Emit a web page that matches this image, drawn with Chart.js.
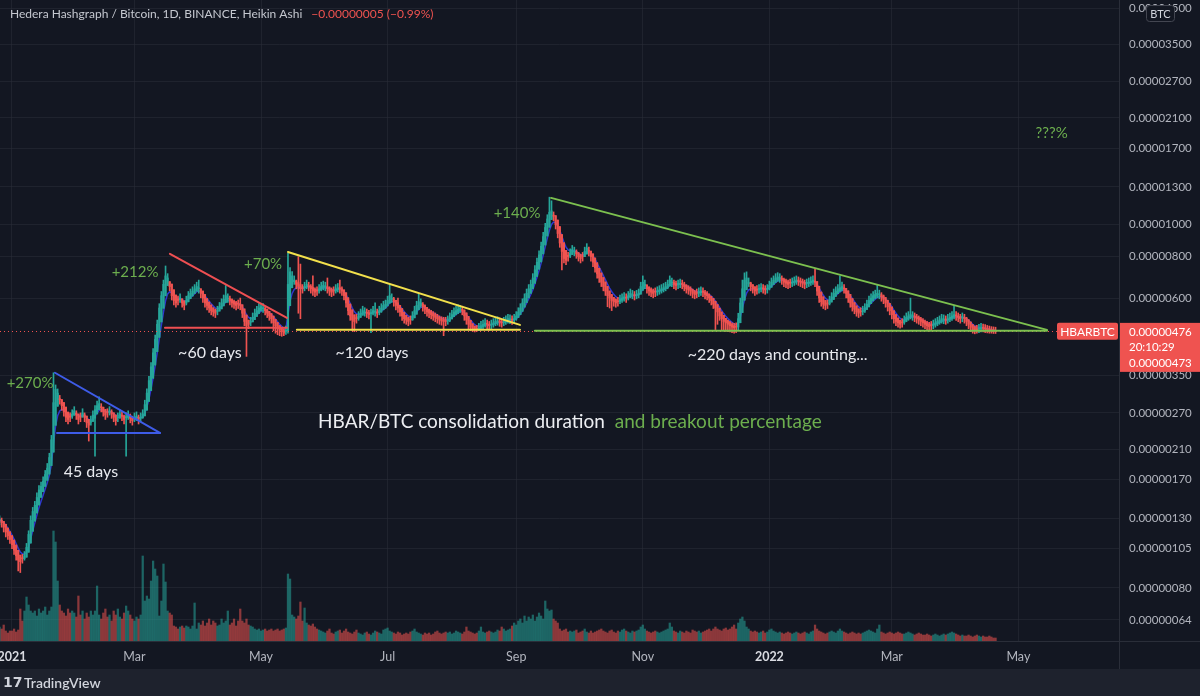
<!DOCTYPE html>
<html>
<head>
<meta charset="utf-8">
<script src="https://cdn.jsdelivr.net/npm/chart.js@4.4.1/dist/chart.umd.min.js"></script>
<style>
  html, body { margin: 0; padding: 0; background: #131722; }
  canvas { display: block; }
</style>
</head>
<body>
<canvas id="chart" width="1200" height="696"></canvas>
<script>
// HBAR/BTC daily Heikin Ashi, prices in satoshi (1e-8 BTC), day 0 = 1 Jan 2021
const firstDay = -6;

const closes = [
  128,126,122,118,115,112,
  108,104,100,97,96,98,100,106,116,128,
  136,142,150,158,162,168,176,184,198,224,
  290,318,310,296,284,272,262,258,262,268,
  274,266,258,262,270,262,252,248,256,266,
  276,284,288,280,272,266,270,274,268,262,
  256,262,268,264,258,262,266,260,256,262,
  264,258,262,268,286,310,338,372,410,450,
  500,560,610,660,700,690,650,610,590,580,
  590,600,580,570,590,610,620,630,640,650,
  640,620,600,580,570,560,550,545,540,550,
  565,580,595,610,600,590,580,575,570,575,
  570,540,510,495,500,510,525,540,550,560,
  565,560,550,540,530,520,505,495,485,480,
  475,470,480,660,720,700,680,660,650,640,
  640,650,660,650,640,630,625,630,640,650,
  655,650,640,630,625,630,640,645,640,630,
  610,580,550,530,515,510,520,530,540,550,
  545,540,535,540,550,545,540,550,560,570,
  575,590,610,600,585,570,560,545,530,520,
  515,510,515,530,550,570,585,580,565,555,
  545,540,535,530,525,520,515,512,510,510,
  515,525,535,545,550,555,560,550,530,515,
  500,490,485,480,482,488,495,500,505,500,
  495,500,505,510,512,508,505,510,515,520,
  518,515,520,530,545,560,580,600,620,640,
  660,690,730,770,810,860,920,980,1040,1090,
  1100,1060,1000,940,880,830,790,780,800,820,
  840,830,815,800,790,800,830,850,830,800,
  770,740,710,690,670,650,630,610,600,590,
  585,580,585,595,600,605,600,610,620,615,
  610,615,620,650,670,660,640,630,625,620,
  625,630,635,640,645,650,660,680,670,660,
  655,660,665,660,650,640,635,630,620,615,
  620,625,630,625,615,610,600,590,575,560,
  545,530,520,510,505,500,495,490,488,490,
  520,580,640,680,690,670,650,640,630,635,
  640,645,640,635,640,655,670,680,690,695,
  690,680,670,665,660,665,670,675,680,675,
  670,665,660,665,670,675,680,670,630,600,
  585,575,570,575,590,605,620,630,640,645,
  650,640,620,600,580,565,555,545,540,545,
  550,560,575,590,600,610,615,620,615,605,
  595,580,565,550,535,520,510,505,500,505,
  515,525,530,535,530,525,520,515,510,505,
  500,495,492,495,500,505,510,515,520,518,
  515,520,525,530,535,530,525,520,525,520,
  510,500,490,482,480,482,485,488,486,484,
  482,480,478,477,476
];

const highs = [
  132,130,126,122,118,115,
  111,107,103,100,99,101,103,109,119,132,
  140,146,155,163,167,173,181,190,204,231,
  357,328,319,305,293,280,270,266,270,276,
  282,274,266,270,278,270,260,255,264,274,
  284,293,302,288,280,274,278,282,276,270,
  264,270,276,272,266,270,274,268,264,270,
  272,266,270,276,295,319,348,383,422,464,
  515,577,628,680,750,711,670,628,608,597,
  608,618,597,587,608,628,639,649,659,670,
  680,639,618,597,587,577,567,561,556,567,
  582,597,613,655,618,608,597,592,587,592,
  600,556,525,510,515,525,541,556,567,577,
  575,577,567,556,546,536,520,510,500,494,
  489,484,494,820,742,721,700,680,800,760,
  659,670,680,670,659,700,644,649,659,670,
  675,670,690,649,644,649,659,664,680,649,
  628,597,567,546,530,525,536,546,556,567,
  561,556,551,556,567,580,556,567,577,587,
  592,608,660,618,603,587,600,561,546,536,
  530,525,530,546,567,587,620,597,582,572,
  561,556,551,546,541,536,530,527,525,525,
  530,541,551,561,567,572,570,567,546,530,
  515,505,500,494,496,503,510,515,520,515,
  510,515,520,525,527,523,520,525,530,536,
  534,530,536,546,561,577,597,618,639,659,
  680,711,752,793,834,886,948,1009,1071,1210,
  1180,1092,1030,968,906,855,814,803,824,845,
  865,855,839,824,814,824,855,876,855,824,
  793,762,731,711,690,670,649,628,618,608,
  603,597,603,613,618,623,618,628,639,633,
  628,633,639,670,700,680,659,649,644,639,
  644,649,654,659,664,670,680,700,690,680,
  675,680,685,680,670,659,654,649,639,633,
  639,644,649,644,633,628,618,608,592,577,
  561,546,536,525,520,515,510,505,503,505,
  540,600,680,715,720,690,670,659,649,654,
  659,664,659,654,659,675,690,700,711,716,
  711,700,690,685,680,685,690,695,700,695,
  690,685,680,685,690,695,700,735,649,618,
  603,592,587,592,608,623,639,649,659,700,
  670,659,639,618,597,582,572,561,556,561,
  567,577,592,608,618,628,634,660,634,623,
  613,597,582,567,551,536,525,520,515,520,
  530,541,546,600,546,541,536,530,525,520,
  515,510,507,510,515,520,525,530,536,534,
  530,536,541,546,570,546,541,536,541,536,
  525,515,505,496,494,496,500,503,501,499,
  496,494,492,491,490
];

const lows = [
  124,122,118,114,112,109,
  105,101,97,90,89,95,97,103,112,124,
  132,138,146,153,157,163,171,178,192,217,
  222,308,301,287,275,264,254,250,254,260,
  266,258,250,254,262,254,244,222,248,258,
  200,275,279,272,264,258,262,266,260,254,
  248,254,260,256,250,200,258,252,248,254,
  256,250,254,260,277,301,328,361,398,437,
  485,543,592,640,679,669,631,592,572,563,
  572,582,563,553,572,592,601,611,621,631,
  621,601,582,563,553,543,534,529,524,534,
  548,563,577,592,582,572,563,558,553,558,
  553,524,495,400,485,495,509,524,534,543,
  548,543,534,524,514,504,478,470,465,462,
  460,462,466,470,698,679,660,640,540,520,
  621,631,640,631,621,611,606,611,621,631,
  635,631,621,611,606,611,621,626,621,611,
  592,563,534,514,478,475,504,514,524,534,
  529,524,519,472,534,529,524,534,543,553,
  558,572,592,582,567,553,543,529,514,504,
  500,495,500,514,534,553,567,563,548,538,
  529,524,519,514,509,504,500,497,462,495,
  500,509,519,529,534,538,543,534,514,500,
  485,478,476,474,476,478,480,485,490,485,
  480,485,490,495,497,493,490,495,500,504,
  502,500,504,514,529,543,563,582,601,621,
  640,669,708,747,786,834,892,951,1009,1057,
  1067,1028,970,912,854,730,766,757,776,795,
  815,805,791,776,766,776,805,825,805,776,
  747,718,689,669,650,631,611,565,560,550,
  567,563,567,577,582,587,582,592,601,597,
  592,597,601,631,650,640,621,611,606,601,
  606,611,616,621,626,631,640,660,650,640,
  635,640,645,640,631,621,616,611,601,597,
  601,606,611,606,597,592,582,572,558,482,
  500,514,481,478,476,475,474,472,470,472,
  480,540,600,650,669,650,631,621,611,616,
  621,626,621,616,621,635,650,660,669,674,
  669,660,650,645,640,645,650,655,660,655,
  650,645,640,645,650,655,660,650,611,582,
  567,558,553,558,572,587,601,611,621,626,
  631,621,601,582,563,548,538,529,524,529,
  534,543,558,572,582,592,597,601,597,587,
  577,563,548,534,519,504,495,490,487,490,
  500,509,514,519,514,509,504,500,495,490,
  485,480,477,480,485,490,495,500,504,502,
  500,504,509,514,519,514,509,504,509,504,
  495,485,475,470,468,470,472,474,474,472,
  471,470,470,469,469
];

const volumes = [
  14,12,16,10,8,10,
  10,12,9,11,32,20,30,44,36,30,
  28,30,25,32,28,30,34,26,30,34,
  110,99,60,36,30,28,25,32,28,30,
  28,24,45,26,30,22,28,24,30,26,
  30,55,26,22,28,32,24,26,20,30,
  26,32,24,22,28,35,30,26,22,20,
  24,22,26,85,40,45,42,60,80,72,
  65,25,40,77,59,30,28,26,15,14,
  12,14,15,13,15,14,12,15,38,12,
  18,16,20,15,18,22,16,20,18,15,
  16,22,18,20,30,16,18,22,15,20,
  32,20,18,22,16,15,14,12,11,12,
  10,11,12,10,11,12,10,11,12,10,
  11,12,13,67,62,26,24,22,25,39,
  20,33,18,16,15,17,14,12,11,10,
  9,8,10,12,8,7,9,10,11,8,
  10,12,9,8,7,9,11,8,7,6,
  8,9,7,6,8,10,9,8,7,11,
  12,13,10,9,8,7,9,8,6,7,
  8,7,9,10,12,9,8,7,6,8,
  7,8,6,7,9,10,8,7,8,9,
  8,9,7,8,10,9,8,7,9,14,
  10,9,8,7,8,10,14,9,8,9,
  10,9,8,9,11,10,14,12,10,11,
  12,15,18,16,20,22,18,25,20,24,
  22,26,20,24,28,25,22,40,32,30,
  31,22,20,18,12,10,11,12,9,10,
  9,10,11,8,9,10,12,9,8,10,
  8,9,10,11,12,10,9,8,10,11,
  9,8,10,9,11,12,10,9,8,10,
  9,10,11,14,16,12,10,9,8,9,
  10,9,8,9,10,11,12,18,14,10,
  9,8,10,9,8,10,9,8,11,10,
  9,10,8,9,10,11,12,10,12,14,
  12,11,10,12,13,11,12,14,16,12,
  18,22,24,20,14,12,10,9,10,9,
  8,9,10,8,9,11,12,10,9,8,
  9,8,7,8,9,8,7,8,9,8,
  7,8,9,8,7,9,10,16,12,10,
  9,8,7,8,9,10,9,8,10,12,
  10,9,8,7,8,9,8,7,8,7,
  8,9,10,11,10,9,8,12,16,9,
  8,7,8,9,8,7,8,9,8,7,
  7,8,9,8,7,6,7,8,7,6,
  6,7,6,5,6,7,6,5,6,7,
  6,7,8,9,8,7,6,5,6,5,
  5,6,5,4,5,6,5,4,5,4,
  4,5,4,3,3
];

const monthDays = [0, 59, 120, 181, 243, 304, 365, 424, 485];
const monthLabels = ['2021', 'Mar', 'May', 'Jul', 'Sep', 'Nov', '2022', 'Mar', 'May'];
const priceTicks = [64, 80, 105, 130, 170, 210, 270, 350, 600, 800, 1000, 1300, 1700, 2100, 2700, 3500, 4500];

// drawn trend lines: [day, price]
const trendFrom = [[20.7, 357], [21.7, 235], [76.1, 816], [73.7, 488], [133, 827], [137.3, 481], [259.8, 1204], [252, 478]];
const trendTo   = [[71.3, 235], [71.3, 235], [132.5, 523], [132.5, 488], [244.8, 498], [244.8, 481], [498.8, 481], [498.8, 478]];

const noteTexts  = ['+270%', '45 days', '+212%', '~60 days', '+70%', '~120 days', '+140%', '~220 days and counting...', '???%'];
const noteDays   = [8.7, 38, 59.3, 95.4, 121, 173.5, 243.4, 369, 501];
const notePrices = [333, 179, 720, 410, 761, 410, 1085, 404, 1892];

const captionWhite = 'HBAR/BTC consolidation duration';
const captionGreen = 'and breakout percentage';
const captionAt = [147.5, 254];

const headerTitle = 'Hedera Hashgraph / Bitcoin, 1D, BINANCE, Heikin Ashi';
const headerChange = '\u22120.00000005 (\u22120.99%)';
const quoteLines = ['0.00000476', '20:10:29', '0.00000473'];
const symbol = 'HBARBTC';

// styles
const UP = '#26a69a', DOWN = '#ef5350';
const GREEN_TXT = '#6cae4e';
const trendColors = ['#3e5ce8', '#3e5ce8', '#ef4f52', '#ef4f52', '#f2e04c', '#f2e04c', '#7cc04f', '#7cc04f'];
const noteColors = [GREEN_TXT, '#e8eaef', GREEN_TXT, '#e8eaef', GREEN_TXT, '#e8eaef', GREEN_TXT, '#e8eaef', GREEN_TXT];
const emaLen = 6;

// derived series
const days = closes.map((_, i) => firstDay + i);
const opens = [];
closes.forEach((c, i) => opens.push(i ? (opens[i - 1] + closes[i - 1]) / 2 : c));
const isUp = closes.map((c, i) => c >= opens[i]);
const ema = [];
closes.forEach((c, i) => ema.push(i ? ema[i - 1] + (c - ema[i - 1]) * 2 / (emaLen + 1) : c));

const wickData = days.map((d, i) => ({ x: d, y: [Math.min(lows[i], opens[i], closes[i]), Math.max(highs[i], opens[i], closes[i])] }));
const bodyData = days.map((d, i) => ({ x: d, y: [Math.min(opens[i], closes[i]), Math.max(opens[i], closes[i])] }));
const candleColors = isUp.map(u => u ? UP : DOWN);
const volColors = isUp.map(u => u ? 'rgba(38,166,154,0.55)' : 'rgba(239,83,80,0.55)');

const overlay = {
  id: 'overlay',
  beforeDraw(chart) {
    const { ctx, width, height } = chart;
    ctx.save();
    ctx.fillStyle = '#131722';
    ctx.fillRect(0, 0, width, height);
    ctx.restore();
  },
  afterDatasetsDraw(chart) {
    const { ctx, chartArea: a, scales: { x, y } } = chart;
    const px = d => x.getPixelForValue(d), py = p => y.getPixelForValue(p);
    ctx.save();
    ctx.beginPath();
    ctx.rect(a.left, a.top, a.right - a.left, a.bottom - a.top);
    ctx.clip();

    // last price line
    const ly = Math.round(py(closes[closes.length - 1])) + 0.5;
    ctx.strokeStyle = DOWN;
    ctx.lineWidth = 1;
    ctx.setLineDash([1, 3]);
    ctx.beginPath(); ctx.moveTo(a.left, ly); ctx.lineTo(a.right, ly); ctx.stroke();
    ctx.setLineDash([]);

    ctx.lineWidth = 2;
    ctx.lineCap = 'round';
    trendFrom.forEach((f, i) => {
      ctx.strokeStyle = trendColors[i];
      ctx.beginPath();
      ctx.moveTo(px(f[0]), py(f[1]));
      ctx.lineTo(px(trendTo[i][0]), py(trendTo[i][1]));
      ctx.stroke();
    });

    ctx.textAlign = 'center';
    ctx.textBaseline = 'middle';
    noteTexts.forEach((t, i) => {
      ctx.fillStyle = noteColors[i];
      ctx.font = (noteColors[i] === GREEN_TXT ? '15px' : '16px') + ' Lato';
      ctx.fillText(t, px(noteDays[i]), py(notePrices[i]));
    });

    ctx.textAlign = 'left';
    ctx.font = '19px Lato';
    const cx = px(captionAt[0]), cy = py(captionAt[1]);
    ctx.fillStyle = '#eceef2';
    ctx.fillText(captionWhite, cx, cy);
    ctx.fillStyle = GREEN_TXT;
    ctx.fillText(captionGreen, cx + ctx.measureText(captionWhite).width + 10, cy);
    ctx.restore();
  },
  afterDraw(chart) {
    const { ctx, chartArea: a, scales: { y }, width, height } = chart;
    ctx.save();
    // pane separators and bottom bar
    ctx.strokeStyle = '#2a2e39';
    ctx.lineWidth = 1;
    ctx.beginPath();
    ctx.moveTo(0, a.bottom + 0.5); ctx.lineTo(width, a.bottom + 0.5);
    ctx.moveTo(a.right + 0.5, 0); ctx.lineTo(a.right + 0.5, height - 27);
    ctx.stroke();
    ctx.fillStyle = '#1e222d';
    ctx.fillRect(0, height - 27, width, 27);

    ctx.textBaseline = 'middle';
    ctx.fillStyle = '#d1d4dc';
    ctx.font = 'bold 14px "DejaVu Sans"';
    ctx.fillText('17', 3, height - 13);
    ctx.font = '600 14px Lato';
    ctx.fillText('TradingView', 24, height - 13);

    // header
    ctx.font = '12px Lato';
    ctx.fillStyle = '#c5c8d0';
    ctx.fillText(headerTitle, 10, 14);
    ctx.fillStyle = DOWN;
    ctx.fillText(headerChange, 10 + ctx.measureText(headerTitle).width + 9, 14);

    // currency badge
    ctx.fillStyle = '#131722';
    ctx.strokeStyle = '#434651';
    ctx.beginPath();
    ctx.roundRect(1146.5, 5.5, 28, 16, 3);
    ctx.fill(); ctx.stroke();
    ctx.fillStyle = '#d1d4dc';
    ctx.font = '11px Lato';
    ctx.textAlign = 'center';
    ctx.fillText('BTC', 1160.5, 14);

    // last price labels
    const ly = y.getPixelForValue(closes[closes.length - 1]);
    ctx.fillStyle = DOWN;
    ctx.beginPath();
    ctx.roundRect(1057, ly - 8.5, 61, 17, 2);
    ctx.fill();
    ctx.fillRect(a.right + 1, ly - 8.5, width - a.right - 1, 49);
    ctx.fillStyle = '#ffffff';
    ctx.font = '12px Lato';
    ctx.fillText(symbol, 1087.5, ly + 0.5);
    ctx.textAlign = 'left';
    ctx.font = '11.5px Lato';
    quoteLines.forEach((t, i) => ctx.fillText(t, a.right + 10, ly + 0.5 + [0, 15, 31][i]));
    ctx.restore();
  }
};

new Chart(document.getElementById('chart'), {
  type: 'bar',
  data: {
    datasets: [
      {
        type: 'line', data: days.map((d, i) => ({ x: d, y: ema[i] })), yAxisID: 'y',
        borderColor: '#2f37cf', borderWidth: 1.5, pointRadius: 0, tension: 0, order: 5
      },
      {
        data: wickData, yAxisID: 'y', backgroundColor: candleColors, grouped: false,
        categoryPercentage: 1, barPercentage: 1, maxBarThickness: 1, order: 2
      },
      {
        data: bodyData, yAxisID: 'y', backgroundColor: candleColors, grouped: false,
        categoryPercentage: 1, barPercentage: 1, maxBarThickness: 1.5, minBarLength: 1, order: 1
      },
      {
        data: days.map((d, i) => ({ x: d, y: volumes[i] })), yAxisID: 'yv', backgroundColor: volColors,
        grouped: false, categoryPercentage: 1, barPercentage: 1, maxBarThickness: 1.6, order: 10
      }
    ]
  },
  options: {
    responsive: false,
    animation: false,
    devicePixelRatio: 1,
    layout: { padding: { left: 0, top: 0, right: 0, bottom: 27 } },
    plugins: { legend: { display: false }, tooltip: { enabled: false } },
    scales: {
      x: {
        type: 'linear', offset: false, bounds: 'data',
        min: -12 / 2.075, max: (1119 - 12) / 2.075,
        afterBuildTicks: s => { s.ticks = monthDays.map(v => ({ value: v })); },
        afterFit: s => { s.height = 28; s.paddingLeft = 0; s.paddingRight = 0; },
        grid: { color: 'rgba(42,46,57,0.55)', drawTicks: false, offset: false },
        border: { display: false },
        ticks: {
          autoSkip: false, maxRotation: 0, padding: 8,
          callback: v => monthLabels[monthDays.indexOf(v)],
          color: ctx => /^\d{4}$/.test(monthLabels[ctx.index]) ? '#d9dbe1' : '#b2b5be',
          font: ctx => ({ family: 'Lato', size: 12.5, weight: /^\d{4}$/.test(monthLabels[ctx.index]) ? 'bold' : 'normal' })
        }
      },
      y: {
        type: 'logarithmic', position: 'right', bounds: 'data',
        min: 55.3, max: 4766,
        afterBuildTicks: s => { s.ticks = priceTicks.map(v => ({ value: v })); },
        afterFit: s => { s.width = 81; s.paddingTop = 0; s.paddingBottom = 0; },
        grid: { color: 'rgba(42,46,57,0.55)', drawTicks: false },
        border: { display: false },
        ticks: {
          padding: 10, color: '#b2b5be', font: { family: 'Lato', size: 11.5 },
          callback: v => (v / 1e8).toFixed(8)
        }
      },
      yv: { type: 'linear', display: false, min: 0, max: 641 }
    }
  },
  plugins: [overlay]
});
</script>
</body>
</html>
